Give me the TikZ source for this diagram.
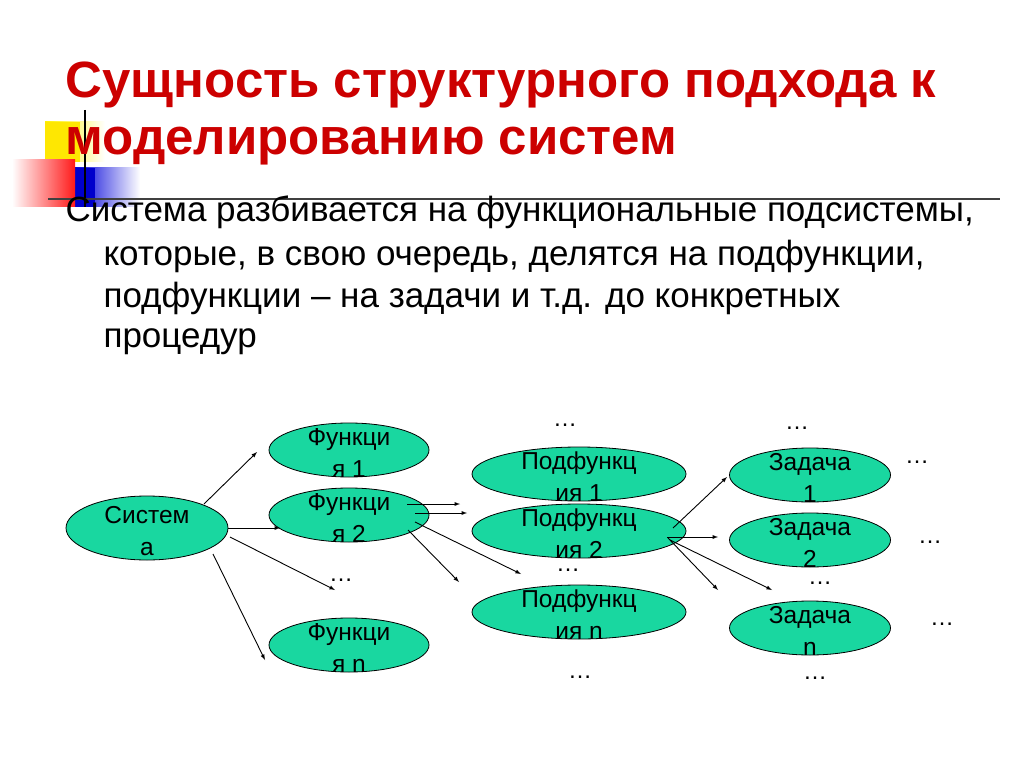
\documentclass[tikz,border=0pt]{standalone}
\usepackage{fontspec}
\setmainfont{Liberation Sans}
\usetikzlibrary{shapes.geometric}
\definecolor{titlered}{RGB}{204,0,0}
\definecolor{nodegreen}{RGB}{25,215,160}
\begin{document}
\begin{tikzpicture}[x=1pt,y=-1pt,
  oval/.style={draw=black,line width=0.8pt,fill=nodegreen,ellipse,minimum width=#1,minimum height=54pt,inner sep=0pt},
  nt/.style={font=\fontsize{24.5}{32}\selectfont,align=center},
  arr/.style={-latex,line width=0.9pt},
  body/.style={anchor=base west,font=\fontsize{35}{42}\selectfont},
  dots/.style={font=\fontsize{24}{26}\selectfont}]
\useasboundingbox (0,0) rectangle (1024,767);
\fill[white] (0,0) rectangle (1024,767);
% decoration
\shade[left color=yellow!90!orange, right color=white] (45,122) rectangle (105,162);
\fill[yellow!90!orange] (45,122) rectangle (80,162);
\shade[left color=blue!85!black, right color=white] (75,168) rectangle (140,207);
\fill[blue!80!black] (60,168) rectangle (95,207);
\shade[left color=white, right color=red!90] (12,160) rectangle (75,207);
\draw[line width=1.5pt] (85,110) -- (85,207);
\draw[line width=1.5pt,black!75] (48,199) -- (1000,199);
% title
\node[anchor=base west,text=titlered,font=\fontsize{51}{56}\selectfont\bfseries] (title) at (62,98) {Сущность структурного подхода к};
\node[anchor=base west,text=titlered,font=\fontsize{51}{56}\selectfont\bfseries] (title2) at (62,155) {моделированию систем};
% body
\node[body] (b1) at (62,222) {Система разбивается на функциональные подсистемы,};
\node[body] (b2) at (100,265) {которые, в свою очередь, делятся на подфункции,};
\node[body] (b3) at (100,307) {подфункции – на задачи и т.д. до конкретных};
\node[body] (b4) at (100,347) {процедур};
% nodes
\node[oval=162pt,minimum height=64pt] (s) at (147,528) {};
\node[nt] at (147,531) {Систем\\а};
\node[oval=160pt] (f1) at (349,450) {};
\node[nt] at (349,453) {Функци\\я 1};
\node[oval=160pt] (f2) at (349,515) {};
\node[nt] at (349,518) {Функци\\я 2};
\node[oval=160pt] (fn) at (349,645) {};
\node[nt] at (349,648) {Функци\\я n};
\node[oval=214pt] (p1) at (579,474) {};
\node[nt] at (579,477) {Подфункц\\ия 1};
\node[oval=214pt] (p2) at (579,531) {};
\node[nt] at (579,534) {Подфункц\\ия 2};
\node[oval=214pt] (pn) at (579,612) {};
\node[nt] at (579,615) {Подфункц\\ия n};
\node[oval=161pt] (z1) at (810,475) {};
\node[nt] at (810,478) {Задача\\1};
\node[oval=161pt] (z2) at (810,540) {};
\node[nt] at (810,543) {Задача\\2};
\node[oval=161pt] (zn) at (810,628) {};
\node[nt] at (810,631) {Задача\\n};
% dots
\foreach \x/\y in {565/425,797/428,917/462,930/542,341/580,568/570,820/583,942/624,580/677,815/678}
  \node[dots] at (\x,\y) {…};
% arrows
\coordinate (e1) at (257,452); \coordinate (e2) at (280,528);
\coordinate (e3) at (335,590); \coordinate (e4) at (265,660);
\draw[arr] (204,504) -- (e1);
\draw[arr] (228,528) -- (e2);
\draw[arr] (230,537) -- (e3);
\draw[arr] (213,554) -- (e4);
\coordinate (g1) at (460,504); \coordinate (g2) at (467,513);
\coordinate (g3) at (521,574); \coordinate (g4) at (459,582);
\draw[arr] (407,504) -- (g1);
\draw[arr] (415,513) -- (g2);
\draw[arr] (415,522) -- (g3);
\draw[arr] (408,530) -- (g4);
\coordinate (h1) at (727,477); \coordinate (h2) at (718,537);
\coordinate (h3) at (718,590); \coordinate (h4) at (772,590);
\draw[arr] (673,528) -- (h1);
\draw[arr] (667,537) -- (h2);
\draw[arr] (668,538) -- (h3);
\draw[arr] (670,540) -- (h4);
\end{tikzpicture}
\end{document}
